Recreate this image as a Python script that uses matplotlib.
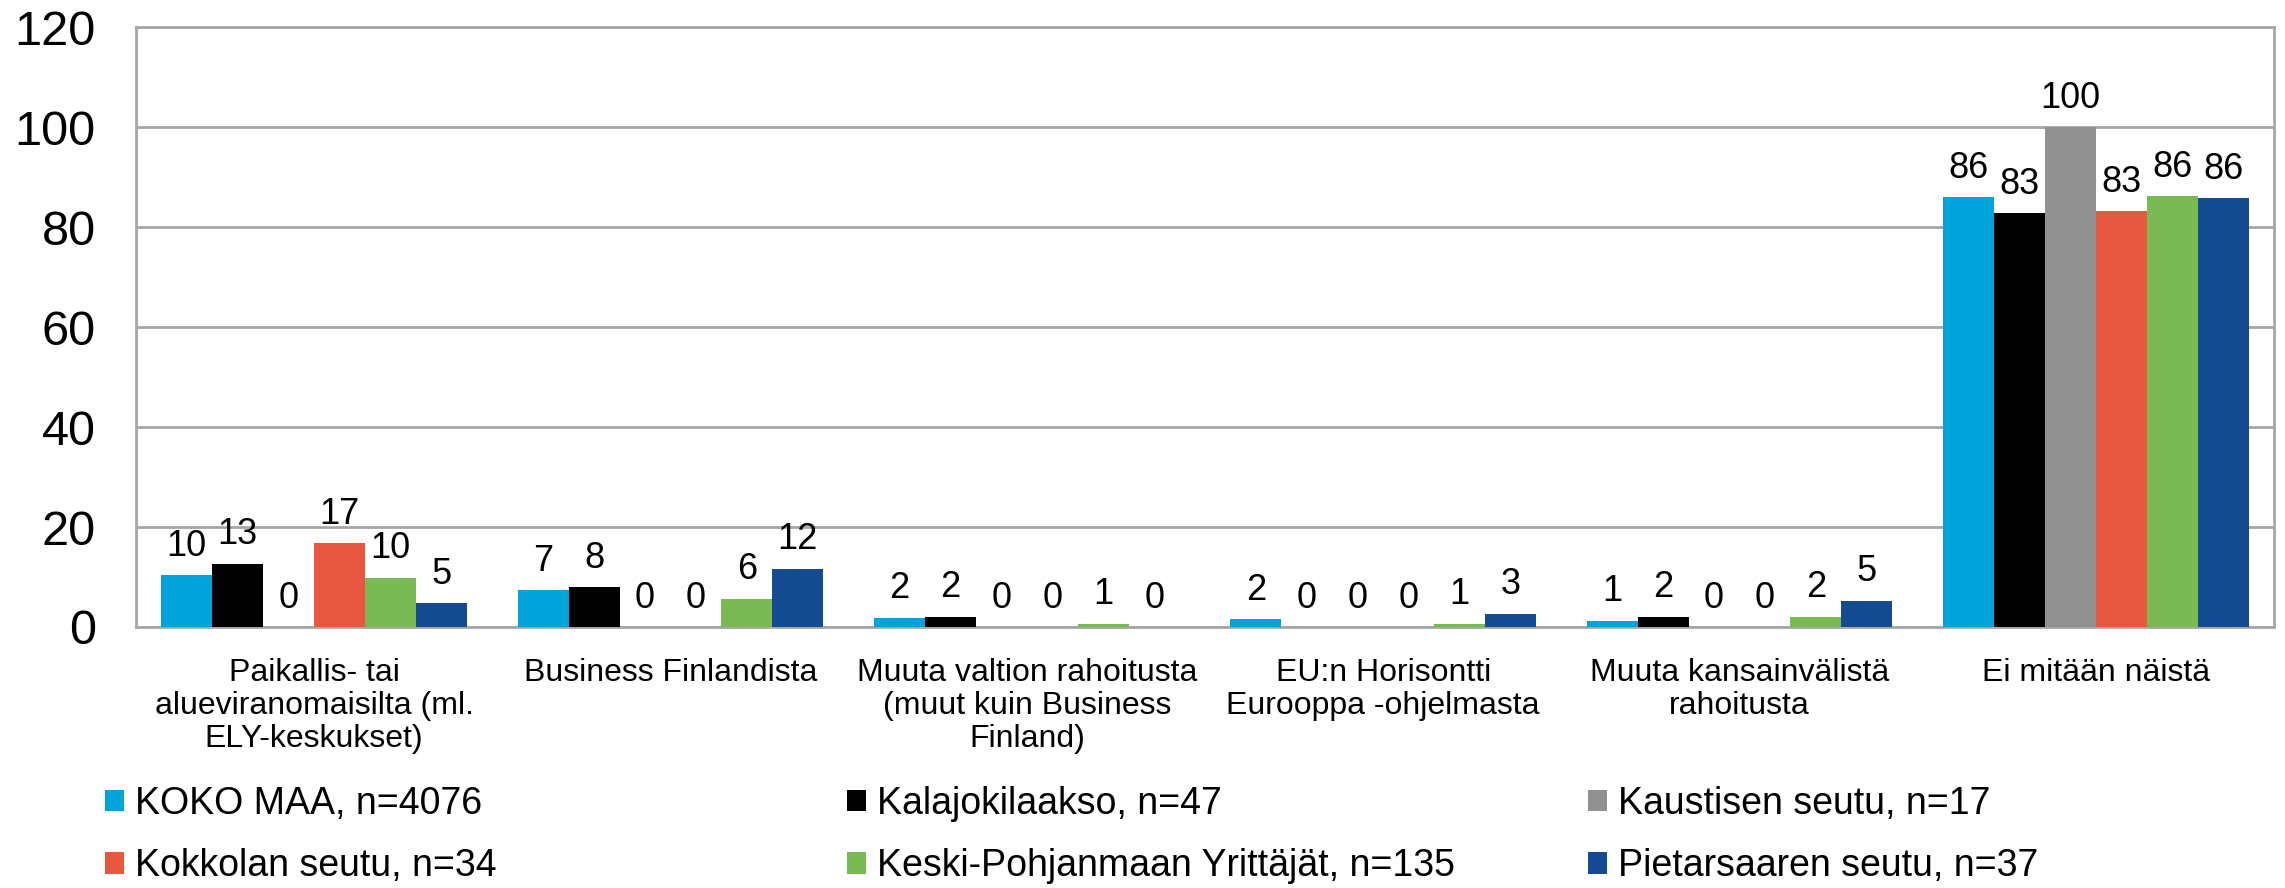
import numpy as np
import matplotlib
matplotlib.use("Agg")
import matplotlib.pyplot as plt
from matplotlib.patches import Patch

plt.rcParams['font.family'] = ['Liberation Sans', 'DejaVu Sans']

# Categories (x-axis)
categories = [
    "Paikallis- tai\nalueviranomaisilta (ml.\nELY-keskukset)",
    "Business Finlandista",
    "Muuta valtion rahoitusta\n(muut kuin Business\nFinland)",
    "EU:n Horisontti\nEurooppa -ohjelmasta",
    "Muuta kansainvälistä\nrahoitusta",
    "Ei mitään näistä",
]

# Series (percent)
series_names = [
    "KOKO MAA, n=4076",
    "Kalajokilaakso, n=47",
    "Kaustisen seutu, n=17",
    "Kokkolan seutu, n=34",
    "Keski-Pohjanmaan Yrittäjät, n=135",
    "Pietarsaaren seutu, n=37",
]
koko_maa = [10.4, 7.4, 1.9, 1.6, 1.3, 86.1]
kalajokilaakso = [12.7, 8.0, 2.1, 0, 2.1, 82.8]
kaustinen = [0, 0, 0, 0, 0, 100]
kokkola = [16.8, 0, 0, 0, 0, 83.2]
keski_pohjanmaa = [9.9, 5.7, 0.7, 0.7, 2.1, 86.2]
pietarsaari = [4.8, 11.7, 0, 2.7, 5.3, 85.9]

colors = ["#00A3DA", "#000000", "#919191", "#E8573F", "#7AB954", "#144A8F"]

all_series = [koko_maa, kalajokilaakso, kaustinen, kokkola, keski_pohjanmaa, pietarsaari]

fig = plt.figure(figsize=(22.85, 8.88), dpi=100)
ax = fig.add_axes([136 / 2285, 1 - 627 / 888, (2274 - 136) / 2285, (627 - 27.3) / 888])

x = np.arange(len(categories))
width = 0.143
handles = []
for i, (vals, name, col) in enumerate(zip(all_series, series_names, colors)):
    pos = x + (i - 2.5) * width
    ax.bar(pos, vals, width=width, color=col, label=name, zorder=3)
    handles.append(Patch(facecolor=col, label=name))
    # value labels above each bar
    for p, v in zip(pos, vals):
        ax.annotate(f"{v:.0f}", (p, v), xytext=(0, 8), textcoords="offset points",
                    ha="center", va="bottom", fontsize=26, color="black")

ax.set_xlim(-0.5, len(categories) - 0.5)
ax.set_ylim(0, 120)
ax.set_yticks(np.arange(0, 121, 20))
ax.tick_params(axis="y", labelsize=35, length=0, pad=29)
ax.set_xticks(x)
ax.set_xticklabels(categories, fontsize=23, linespacing=1.15)
ax.tick_params(axis="x", length=0, pad=22)
ax.grid(axis="y", color="#A6A6A6", linewidth=2, zorder=0)
for s in ax.spines.values():
    s.set_color("#A6A6A6")
    s.set_linewidth(2)

# legend: 3 columns, 2 rows
col_x = [105, 847, 1588]
for c in range(3):
    hs = [handles[c], handles[c + 3]]
    fig.legend(handles=hs, loc="center left", bbox_to_anchor=(col_x[c] / 2285, 1 - 835 / 888),
               frameon=False, fontsize=27, handlelength=0.5, handleheight=0.5,
               handletextpad=0.3, labelspacing=0.7, borderpad=0, borderaxespad=0)

fig.savefig("out.png", dpi=100)
